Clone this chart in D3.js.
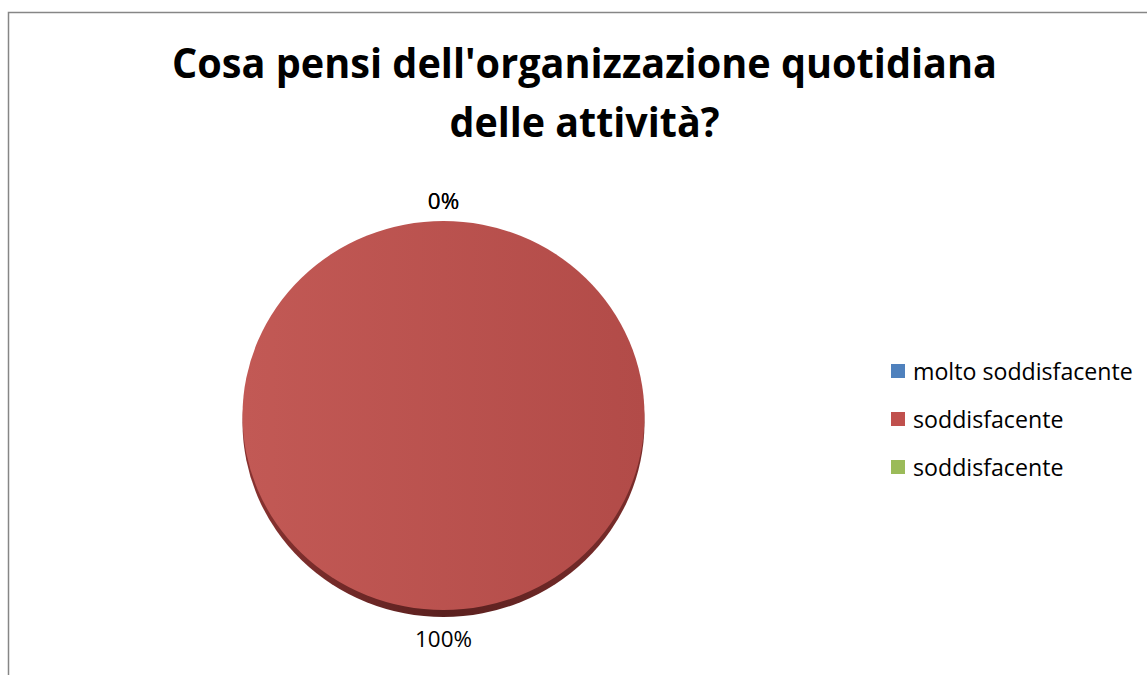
<!DOCTYPE html>
<html>
<head>
<meta charset="utf-8">
<script src="https://cdn.jsdelivr.net/npm/d3@7"></script>
<style>
  body { margin: 0; background: #fff; }
  svg text { font-family: "Open Sans", "Noto Sans", sans-serif; fill: #000; }
</style>
</head>
<body>
<div id="chart"></div>
<script>
// chart data
let titleLines = ["Cosa pensi dell'organizzazione quotidiana", "delle attività?"];
let categories = ["molto soddisfacente", "soddisfacente", "soddisfacente"];
let values = [0, 1, 0];
let colors = ["#4F81BD", "#C0504D", "#9BBB59"];

let width = 1147, height = 675;

let svg = d3.select("#chart").append("svg")
    .attr("width", width)
    .attr("height", height);

// chart frame (runs off right / bottom edge)
svg.append("rect")
    .attr("x", 8.5).attr("y", 12.5)
    .attr("width", width + 20).attr("height", height + 20)
    .attr("fill", "#fff")
    .attr("stroke", "#868686")
    .attr("stroke-width", 1.5);

// title - squeezed to the width of the original narrower font
let titleWidths = [825, 270];
titleLines.forEach((t, i) => {
    svg.append("text")
        .attr("x", 584.5)
        .attr("y", 78 + i * 59)
        .attr("text-anchor", "middle")
        .attr("textLength", titleWidths[i])
        .attr("lengthAdjust", "spacingAndGlyphs")
        .style("font-weight", "bold")
        .style("font-size", "42px")
        .text(t);
});

// pie geometry
let cx = 443.5, cy = 415.5, rx = 201, ry = 194.5, depth = 7;

let defs = svg.append("defs");
let grad = defs.append("linearGradient")
    .attr("id", "faceGrad")
    .attr("x1", "0%").attr("y1", "0%")
    .attr("x2", "100%").attr("y2", "0%");
grad.append("stop").attr("offset", "0%").attr("stop-color", "#C25955");
grad.append("stop").attr("offset", "100%").attr("stop-color", "#B24B48");

let sideGrad = defs.append("linearGradient")
    .attr("id", "sideGrad")
    .attr("x1", "0%").attr("y1", "0%")
    .attr("x2", "100%").attr("y2", "0%");
sideGrad.append("stop").attr("offset", "0%").attr("stop-color", "#8A3331");
sideGrad.append("stop").attr("offset", "50%").attr("stop-color", "#5A201F");
sideGrad.append("stop").attr("offset", "100%").attr("stop-color", "#7A2D2B");

let pie = d3.pie().sort(null).value(d => d);
let arcs = pie(values);

let arc = d3.arc().innerRadius(0).outerRadius(rx);

// side (depth) of the pie
let side = svg.append("g")
    .attr("transform", "translate(" + cx + "," + (cy + depth) + ") scale(1," + (ry / rx) + ")");
side.selectAll("path")
    .data(arcs.filter(d => d.value > 0))
    .enter().append("path")
    .attr("d", arc)
    .attr("fill", "url(#sideGrad)");

// face of the pie
let face = svg.append("g")
    .attr("transform", "translate(" + cx + "," + cy + ") scale(1," + (ry / rx) + ")");
face.selectAll("path")
    .data(arcs.filter(d => d.value > 0))
    .enter().append("path")
    .attr("d", arc)
    .attr("fill", d => d.index === 1 ? "url(#faceGrad)" : colors[d.index]);

// percentage labels
let total = d3.sum(values);
let fmt = d3.format(".0%");
let labelOff = 21;
let labels = arcs.map(d => {
    let a = (d.startAngle + d.endAngle) / 2;
    let lx = cx + Math.sin(a) * (rx + labelOff);
    let ly = cy - Math.cos(a) * (ry + labelOff) + (Math.cos(a) < 0 ? depth : 0);
    return svg.append("text")
        .attr("x", lx)
        .attr("y", ly)
        .attr("text-anchor", "middle")
        .attr("dominant-baseline", "central")
        .style("font-size", "20px")
        .text(fmt(d.value / total));
});
// size so that "100%" is about 57px wide
let big = labels[1];
let labFs = 20 * 57 / big.node().getComputedTextLength();
labels.forEach(l => l.style("font-size", labFs + "px"));

// legend
let legend = svg.append("g");
let rows = legend.selectAll("g")
    .data(categories)
    .enter().append("g")
    .attr("transform", (d, i) => "translate(891," + (371 + i * 48) + ")");
rows.append("rect")
    .attr("x", 0).attr("y", -7)
    .attr("width", 14).attr("height", 14)
    .attr("fill", (d, i) => colors[i]);
rows.append("text")
    .attr("x", 22)
    .attr("y", 0)
    .attr("dominant-baseline", "central")
    .style("font-size", "20px")
    .text(d => d);
let legText = rows.select("text");
let first = d3.select(legText.nodes()[0]);
let fs = 20 * 220 / first.node().getComputedTextLength();
legText.style("font-size", fs + "px");
</script>
</body>
</html>
